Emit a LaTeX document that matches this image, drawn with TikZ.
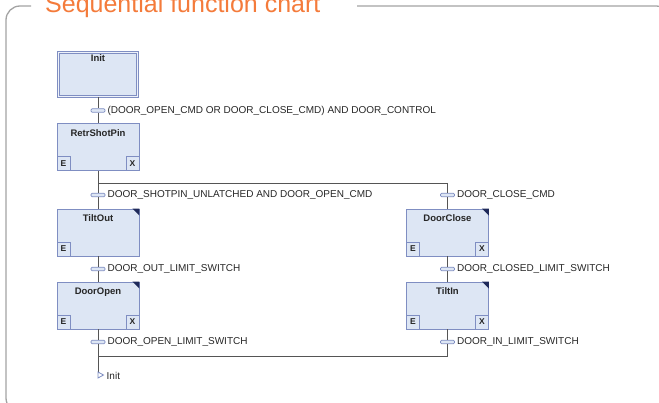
\documentclass[tikz,border=0pt]{standalone}
\usepackage{fontspec}
\setmainfont{Liberation Sans}
\usepackage{xcolor}
\usetikzlibrary{positioning, calc}
\definecolor{stepfill}{HTML}{DDE6F4}
\definecolor{stepline}{HTML}{7F8EC2}
\definecolor{wire}{HTML}{555555}
\definecolor{titleorange}{HTML}{F47B3B}
\definecolor{framegrey}{HTML}{A3A3A3}
\definecolor{cornerblue}{HTML}{1F2A5A}

\begin{document}
\begin{tikzpicture}[x=1pt, y=-1pt,
  stepbox/.style={draw=stepline, fill=stepfill, line width=0.8pt, minimum width=82pt,
    inner sep=0pt, text height=13pt, text depth=34pt, text=black!85,
    font=\bfseries\fontsize{9.5}{10}\selectfont},
  flagbox/.style={draw=stepline, line width=0.8pt, minimum width=13pt, minimum height=14pt,
    inner sep=0pt, text=black!85, font=\bfseries\fontsize{8.5}{9}\selectfont},
  transbar/.style={draw=stepline, fill=stepfill, line width=0.7pt, rounded corners=1.2pt,
    minimum width=14pt, minimum height=3.5pt, inner sep=0pt},
  translabel/.style={inner sep=0.5pt, text=black!85, font=\fontsize{10}{12}\selectfont},
  link/.style={draw=wire, line width=0.8pt}
]
\useasboundingbox (0,0) rectangle (659,403);
\clip (0,0) rectangle (659,403);

% frame and heading
\draw[framegrey, line width=1.3pt, rounded corners=14pt] (31,6) -| (6,412) -| (670,6) -- (357,6);
\node[anchor=base west, inner sep=0pt, text=titleorange, font=\fontsize{25}{30}\selectfont]
  (chart-title) at (45,13) {Sequential function chart};

% steps
\node[stepbox, minimum width=79pt, text height=9pt, text depth=35pt,
  double=stepfill!50!white, double distance=1.6pt] (init) at (98,74.5) {Init};
\node[stepbox] (retr) at (98,147) {RetrShotPin};
\node[stepbox] (tiltout) at (98,232.5) {TiltOut};
\node[stepbox] (dooropen) at (98,305.5) {DoorOpen};
\node[stepbox] (doorclose) at (447.5,232.5) {DoorClose};
\node[stepbox] (tiltin) at (447.5,305.5) {TiltIn};

\foreach \s in {retr, tiltout, dooropen, doorclose, tiltin}
  \node[flagbox, anchor=south west] (\s-e) at (\s.south west) {E};
\foreach \s in {retr, dooropen, doorclose, tiltin}
  \node[flagbox, anchor=south east] (\s-x) at (\s.south east) {X};
\foreach \s in {tiltout, dooropen, doorclose, tiltin}
  \fill[cornerblue] (\s.north east) -- ++(-7,0) -- ++(7,7) -- cycle;

% transitions
\node[transbar] (t1) at (98,110.5) {};
\node[transbar] (t2) at (98,195) {};
\node[transbar] (t3) at (98,269) {};
\node[transbar] (t4) at (98,342) {};
\node[transbar] (t5) at (447.5,195) {};
\node[transbar] (t6) at (447.5,269) {};
\node[transbar] (t7) at (447.5,342) {};

\node[translabel, right=1.5pt of t1] (t1-lbl) {(DOOR\_OPEN\_CMD OR DOOR\_CLOSE\_CMD) AND DOOR\_CONTROL};
\node[translabel, right=1.5pt of t2] (t2-lbl) {DOOR\_SHOTPIN\_UNLATCHED AND DOOR\_OPEN\_CMD};
\node[translabel, right=1.5pt of t3] (t3-lbl) {DOOR\_OUT\_LIMIT\_SWITCH};
\node[translabel, right=1.5pt of t4] (t4-lbl) {DOOR\_OPEN\_LIMIT\_SWITCH};
\node[translabel, right=1.5pt of t5] (t5-lbl) {DOOR\_CLOSE\_CMD};
\node[translabel, right=1.5pt of t6] (t6-lbl) {DOOR\_CLOSED\_LIMIT\_SWITCH};
\node[translabel, right=1.5pt of t7] (t7-lbl) {DOOR\_IN\_LIMIT\_SWITCH};

% branch points
\coordinate (div-l) at (98,183);
\coordinate (div-r) at (447.5,183);
\coordinate (conv-l) at (98,356);
\coordinate (conv-r) at (447.5,356);
\coordinate (jump) at (98,372);

% connectors
\draw[link] (init) -- (t1) -- (retr);
\draw[link] (retr) -- (div-l) -- (div-r);
\draw[link] (div-l) -- (t2) -- (tiltout);
\draw[link] (div-r) -- (t5) -- (doorclose);
\draw[link] (tiltout) -- (t3) -- (dooropen);
\draw[link] (doorclose) -- (t6) -- (tiltin);
\draw[link] (dooropen) -- (t4) -- (conv-l) -- (conv-r) -- (t7) -- (tiltin);
\draw[link] (conv-l) -- (jump);

% jump back to Init
\draw[stepline, line width=0.8pt, fill=white] (jump) -- ++(5.5,3) -- ++(-5.5,3) -- cycle;
\node[translabel, anchor=west] (jump-lbl) at (106,375.5) {Init};
\end{tikzpicture}
\end{document}
